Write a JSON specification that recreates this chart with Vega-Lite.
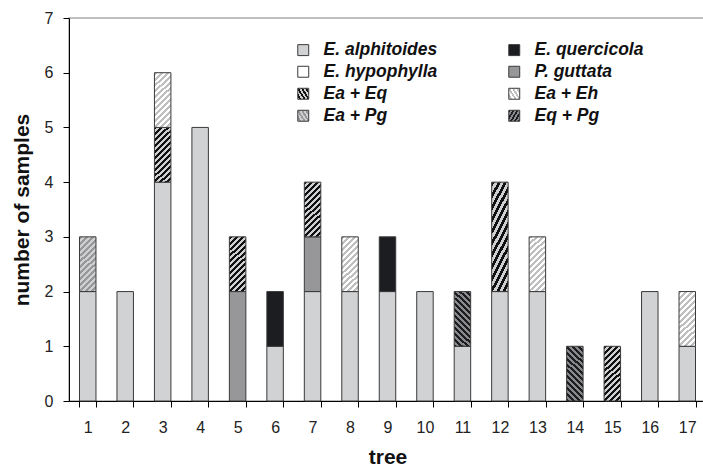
{
  "$schema": "https://vega.github.io/schema/vega-lite/v6.json",
  "autosize": "none",
  "padding": {"left": 69, "top": 18, "right": 0, "bottom": 67},
  "width": 637,
  "height": 383,
  "config": {
    "view": {"stroke": "#aaaaaa", "strokeWidth": 1.5},
    "font": "Liberation Sans"
  },
  "data": {
    "values": [
      {"tree": 1, "value": "E. alphitoides", "n": 2, "k": 0},
      {"tree": 1, "value": "Ea + Pg", "n": 1, "k": 6},
      {"tree": 2, "value": "E. alphitoides", "n": 2, "k": 0},
      {"tree": 3, "value": "E. alphitoides", "n": 4, "k": 0},
      {"tree": 3, "value": "Ea + Eq", "n": 1, "k": 4},
      {"tree": 3, "value": "Ea + Eh", "n": 1, "k": 5},
      {"tree": 4, "value": "E. alphitoides", "n": 5, "k": 0},
      {"tree": 5, "value": "P. guttata", "n": 2, "k": 3},
      {"tree": 5, "value": "Ea + Eq", "n": 1, "k": 4},
      {"tree": 6, "value": "E. alphitoides", "n": 1, "k": 0},
      {"tree": 6, "value": "E. quercicola", "n": 1, "k": 1},
      {"tree": 7, "value": "E. alphitoides", "n": 2, "k": 0},
      {"tree": 7, "value": "P. guttata", "n": 1, "k": 3},
      {"tree": 7, "value": "Ea + Eq", "n": 1, "k": 4},
      {"tree": 8, "value": "E. alphitoides", "n": 2, "k": 0},
      {"tree": 8, "value": "Ea + Eh", "n": 1, "k": 5},
      {"tree": 9, "value": "E. alphitoides", "n": 2, "k": 0},
      {"tree": 9, "value": "E. quercicola", "n": 1, "k": 1},
      {"tree": 10, "value": "E. alphitoides", "n": 2, "k": 0},
      {"tree": 11, "value": "E. alphitoides", "n": 1, "k": 0},
      {"tree": 11, "value": "Eq + Pg", "n": 1, "k": 7},
      {"tree": 12, "value": "E. alphitoides", "n": 2, "k": 0},
      {"tree": 12, "value": "Ea + Eq", "n": 2, "k": 4},
      {"tree": 13, "value": "E. alphitoides", "n": 2, "k": 0},
      {"tree": 13, "value": "Ea + Eh", "n": 1, "k": 5},
      {"tree": 14, "value": "Eq + Pg", "n": 1, "k": 7},
      {"tree": 15, "value": "Ea + Eq", "n": 1, "k": 4},
      {"tree": 16, "value": "E. alphitoides", "n": 2, "k": 0},
      {"tree": 17, "value": "E. alphitoides", "n": 1, "k": 0},
      {"tree": 17, "value": "Ea + Eh", "n": 1, "k": 5}
    ]
  },
  "mark": {"type": "bar", "strokeWidth": 1},
  "encoding": {
    "x": {
      "field": "tree", "type": "ordinal",
      "scale": {"paddingInner": 0.56, "paddingOuter": 0.28},
      "axis": {
        "title": "tree", "labelAngle": 0, "tickBand": "extent",
        "domainColor": "#000", "tickColor": "#000", "tickSize": 6, "domainWidth": 1,
        "labelFont": "Liberation Sans", "labelFontSize": 16, "labelColor": "#222", "labelPadding": 12,
        "titleFont": "Liberation Sans", "titleFontSize": 21, "titleFontWeight": "bold", "titleColor": "#111", "titlePadding": 11
      }
    },
    "y": {
      "field": "n", "type": "quantitative", "stack": "zero",
      "scale": {"domain": [0, 7], "nice": false},
      "axis": {
        "title": "number of samples", "values": [0, 1, 2, 3, 4, 5, 6, 7], "grid": false,
        "domainColor": "#000", "tickColor": "#000", "tickSize": 6, "domainWidth": 1,
        "labelFont": "Liberation Sans", "labelFontSize": 16, "labelColor": "#222", "labelPadding": 10,
        "titleFont": "Liberation Sans", "titleFontSize": 21, "titleFontWeight": "bold", "titleColor": "#111", "titlePadding": 12
      }
    },
    "order": {"field": "k", "type": "quantitative", "sort": "ascending"},
    "stroke": {
      "field": "value", "type": "nominal",
      "scale": {
        "domain": ["E. alphitoides", "E. hypophylla", "Ea + Eq", "Ea + Pg", "E. quercicola", "P. guttata", "Ea + Eh", "Eq + Pg"],
        "range": ["#3a3a3a", "#3a3a3a", "#3a3a3a", "#3a3a3a", "#3a3a3a", "#3a3a3a", "#3a3a3a", "#3a3a3a"]
      },
      "legend": {
        "title": null, "orient": "none", "legendX": 225.5, "legendY": 23, "columns": 2,
        "symbolType": "square", "symbolSize": 120, "symbolStrokeWidth": 1, "symbolOpacity": 1,
        "labelFont": "Liberation Sans", "labelFontSize": 17.5, "labelFontWeight": "bold", "labelFontStyle": "italic", "labelColor": "#111111",
        "labelOffset": 11.5, "rowPadding": 3, "columnPadding": 68, "padding": 0, "labelLimit": 300
      }
    },
    "color": {
      "condition": [
        {"test": "false", "value": ""},
        {"test": "datum.value === 'Ea + Eq'", "value": {"gradient": "linear", "x1": 0, "y1": 0, "x2": 0.346, "y2": 1.19, "stops": [
            {"offset": 0, "color": "#111111"}, {"offset": 0.0417, "color": "#111111"}, {"offset": 0.0417, "color": "#cfd0d2"}, {"offset": 0.0833, "color": "#cfd0d2"},
            {"offset": 0.0833, "color": "#111111"}, {"offset": 0.125, "color": "#111111"}, {"offset": 0.125, "color": "#cfd0d2"}, {"offset": 0.1667, "color": "#cfd0d2"},
            {"offset": 0.1667, "color": "#111111"}, {"offset": 0.2083, "color": "#111111"}, {"offset": 0.2083, "color": "#cfd0d2"}, {"offset": 0.25, "color": "#cfd0d2"},
            {"offset": 0.25, "color": "#111111"}, {"offset": 0.2917, "color": "#111111"}, {"offset": 0.2917, "color": "#cfd0d2"}, {"offset": 0.3333, "color": "#cfd0d2"},
            {"offset": 0.3333, "color": "#111111"}, {"offset": 0.375, "color": "#111111"}, {"offset": 0.375, "color": "#cfd0d2"}, {"offset": 0.4167, "color": "#cfd0d2"},
            {"offset": 0.4167, "color": "#111111"}, {"offset": 0.4583, "color": "#111111"}, {"offset": 0.4583, "color": "#cfd0d2"}, {"offset": 0.5, "color": "#cfd0d2"},
            {"offset": 0.5, "color": "#111111"}, {"offset": 0.5417, "color": "#111111"}, {"offset": 0.5417, "color": "#cfd0d2"}, {"offset": 0.5833, "color": "#cfd0d2"},
            {"offset": 0.5833, "color": "#111111"}, {"offset": 0.625, "color": "#111111"}, {"offset": 0.625, "color": "#cfd0d2"}, {"offset": 0.6667, "color": "#cfd0d2"},
            {"offset": 0.6667, "color": "#111111"}, {"offset": 0.7083, "color": "#111111"}, {"offset": 0.7083, "color": "#cfd0d2"}, {"offset": 0.75, "color": "#cfd0d2"},
            {"offset": 0.75, "color": "#111111"}, {"offset": 0.7917, "color": "#111111"}, {"offset": 0.7917, "color": "#cfd0d2"}, {"offset": 0.8333, "color": "#cfd0d2"},
            {"offset": 0.8333, "color": "#111111"}, {"offset": 0.875, "color": "#111111"}, {"offset": 0.875, "color": "#cfd0d2"}, {"offset": 0.9167, "color": "#cfd0d2"},
            {"offset": 0.9167, "color": "#111111"}, {"offset": 0.9583, "color": "#111111"}, {"offset": 0.9583, "color": "#cfd0d2"}, {"offset": 1, "color": "#cfd0d2"}
          ]}},
        {"test": "datum.value === 'Ea + Eh'", "value": {"gradient": "linear", "x1": 0, "y1": 0, "x2": 0.346, "y2": 1.19, "stops": [
            {"offset": 0, "color": "#bfbfbf"}, {"offset": 0.0417, "color": "#bfbfbf"}, {"offset": 0.0417, "color": "#ffffff"}, {"offset": 0.0833, "color": "#ffffff"},
            {"offset": 0.0833, "color": "#bfbfbf"}, {"offset": 0.125, "color": "#bfbfbf"}, {"offset": 0.125, "color": "#ffffff"}, {"offset": 0.1667, "color": "#ffffff"},
            {"offset": 0.1667, "color": "#bfbfbf"}, {"offset": 0.2083, "color": "#bfbfbf"}, {"offset": 0.2083, "color": "#ffffff"}, {"offset": 0.25, "color": "#ffffff"},
            {"offset": 0.25, "color": "#bfbfbf"}, {"offset": 0.2917, "color": "#bfbfbf"}, {"offset": 0.2917, "color": "#ffffff"}, {"offset": 0.3333, "color": "#ffffff"},
            {"offset": 0.3333, "color": "#bfbfbf"}, {"offset": 0.375, "color": "#bfbfbf"}, {"offset": 0.375, "color": "#ffffff"}, {"offset": 0.4167, "color": "#ffffff"},
            {"offset": 0.4167, "color": "#bfbfbf"}, {"offset": 0.4583, "color": "#bfbfbf"}, {"offset": 0.4583, "color": "#ffffff"}, {"offset": 0.5, "color": "#ffffff"},
            {"offset": 0.5, "color": "#bfbfbf"}, {"offset": 0.5417, "color": "#bfbfbf"}, {"offset": 0.5417, "color": "#ffffff"}, {"offset": 0.5833, "color": "#ffffff"},
            {"offset": 0.5833, "color": "#bfbfbf"}, {"offset": 0.625, "color": "#bfbfbf"}, {"offset": 0.625, "color": "#ffffff"}, {"offset": 0.6667, "color": "#ffffff"},
            {"offset": 0.6667, "color": "#bfbfbf"}, {"offset": 0.7083, "color": "#bfbfbf"}, {"offset": 0.7083, "color": "#ffffff"}, {"offset": 0.75, "color": "#ffffff"},
            {"offset": 0.75, "color": "#bfbfbf"}, {"offset": 0.7917, "color": "#bfbfbf"}, {"offset": 0.7917, "color": "#ffffff"}, {"offset": 0.8333, "color": "#ffffff"},
            {"offset": 0.8333, "color": "#bfbfbf"}, {"offset": 0.875, "color": "#bfbfbf"}, {"offset": 0.875, "color": "#ffffff"}, {"offset": 0.9167, "color": "#ffffff"},
            {"offset": 0.9167, "color": "#bfbfbf"}, {"offset": 0.9583, "color": "#bfbfbf"}, {"offset": 0.9583, "color": "#ffffff"}, {"offset": 1, "color": "#ffffff"}
          ]}},
        {"test": "datum.value === 'Ea + Pg'", "value": {"gradient": "linear", "x1": 0, "y1": 0, "x2": 0.346, "y2": 1.19, "stops": [
            {"offset": 0, "color": "#98989b"}, {"offset": 0.0417, "color": "#98989b"}, {"offset": 0.0417, "color": "#cfd0d2"}, {"offset": 0.0833, "color": "#cfd0d2"},
            {"offset": 0.0833, "color": "#98989b"}, {"offset": 0.125, "color": "#98989b"}, {"offset": 0.125, "color": "#cfd0d2"}, {"offset": 0.1667, "color": "#cfd0d2"},
            {"offset": 0.1667, "color": "#98989b"}, {"offset": 0.2083, "color": "#98989b"}, {"offset": 0.2083, "color": "#cfd0d2"}, {"offset": 0.25, "color": "#cfd0d2"},
            {"offset": 0.25, "color": "#98989b"}, {"offset": 0.2917, "color": "#98989b"}, {"offset": 0.2917, "color": "#cfd0d2"}, {"offset": 0.3333, "color": "#cfd0d2"},
            {"offset": 0.3333, "color": "#98989b"}, {"offset": 0.375, "color": "#98989b"}, {"offset": 0.375, "color": "#cfd0d2"}, {"offset": 0.4167, "color": "#cfd0d2"},
            {"offset": 0.4167, "color": "#98989b"}, {"offset": 0.4583, "color": "#98989b"}, {"offset": 0.4583, "color": "#cfd0d2"}, {"offset": 0.5, "color": "#cfd0d2"},
            {"offset": 0.5, "color": "#98989b"}, {"offset": 0.5417, "color": "#98989b"}, {"offset": 0.5417, "color": "#cfd0d2"}, {"offset": 0.5833, "color": "#cfd0d2"},
            {"offset": 0.5833, "color": "#98989b"}, {"offset": 0.625, "color": "#98989b"}, {"offset": 0.625, "color": "#cfd0d2"}, {"offset": 0.6667, "color": "#cfd0d2"},
            {"offset": 0.6667, "color": "#98989b"}, {"offset": 0.7083, "color": "#98989b"}, {"offset": 0.7083, "color": "#cfd0d2"}, {"offset": 0.75, "color": "#cfd0d2"},
            {"offset": 0.75, "color": "#98989b"}, {"offset": 0.7917, "color": "#98989b"}, {"offset": 0.7917, "color": "#cfd0d2"}, {"offset": 0.8333, "color": "#cfd0d2"},
            {"offset": 0.8333, "color": "#98989b"}, {"offset": 0.875, "color": "#98989b"}, {"offset": 0.875, "color": "#cfd0d2"}, {"offset": 0.9167, "color": "#cfd0d2"},
            {"offset": 0.9167, "color": "#98989b"}, {"offset": 0.9583, "color": "#98989b"}, {"offset": 0.9583, "color": "#cfd0d2"}, {"offset": 1, "color": "#cfd0d2"}
          ]}},
        {"test": "datum.value === 'Eq + Pg'", "value": {"gradient": "linear", "x1": 0, "y1": 1, "x2": 0.346, "y2": -0.19, "stops": [
            {"offset": 0, "color": "#1c1d21"}, {"offset": 0.0417, "color": "#1c1d21"}, {"offset": 0.0417, "color": "#8a8a8d"}, {"offset": 0.0833, "color": "#8a8a8d"},
            {"offset": 0.0833, "color": "#1c1d21"}, {"offset": 0.125, "color": "#1c1d21"}, {"offset": 0.125, "color": "#8a8a8d"}, {"offset": 0.1667, "color": "#8a8a8d"},
            {"offset": 0.1667, "color": "#1c1d21"}, {"offset": 0.2083, "color": "#1c1d21"}, {"offset": 0.2083, "color": "#8a8a8d"}, {"offset": 0.25, "color": "#8a8a8d"},
            {"offset": 0.25, "color": "#1c1d21"}, {"offset": 0.2917, "color": "#1c1d21"}, {"offset": 0.2917, "color": "#8a8a8d"}, {"offset": 0.3333, "color": "#8a8a8d"},
            {"offset": 0.3333, "color": "#1c1d21"}, {"offset": 0.375, "color": "#1c1d21"}, {"offset": 0.375, "color": "#8a8a8d"}, {"offset": 0.4167, "color": "#8a8a8d"},
            {"offset": 0.4167, "color": "#1c1d21"}, {"offset": 0.4583, "color": "#1c1d21"}, {"offset": 0.4583, "color": "#8a8a8d"}, {"offset": 0.5, "color": "#8a8a8d"},
            {"offset": 0.5, "color": "#1c1d21"}, {"offset": 0.5417, "color": "#1c1d21"}, {"offset": 0.5417, "color": "#8a8a8d"}, {"offset": 0.5833, "color": "#8a8a8d"},
            {"offset": 0.5833, "color": "#1c1d21"}, {"offset": 0.625, "color": "#1c1d21"}, {"offset": 0.625, "color": "#8a8a8d"}, {"offset": 0.6667, "color": "#8a8a8d"},
            {"offset": 0.6667, "color": "#1c1d21"}, {"offset": 0.7083, "color": "#1c1d21"}, {"offset": 0.7083, "color": "#8a8a8d"}, {"offset": 0.75, "color": "#8a8a8d"},
            {"offset": 0.75, "color": "#1c1d21"}, {"offset": 0.7917, "color": "#1c1d21"}, {"offset": 0.7917, "color": "#8a8a8d"}, {"offset": 0.8333, "color": "#8a8a8d"},
            {"offset": 0.8333, "color": "#1c1d21"}, {"offset": 0.875, "color": "#1c1d21"}, {"offset": 0.875, "color": "#8a8a8d"}, {"offset": 0.9167, "color": "#8a8a8d"},
            {"offset": 0.9167, "color": "#1c1d21"}, {"offset": 0.9583, "color": "#1c1d21"}, {"offset": 0.9583, "color": "#8a8a8d"}, {"offset": 1, "color": "#8a8a8d"}
          ]}}
      ],
      "field": "value", "type": "nominal",
      "scale": {
        "domain": ["E. alphitoides", "E. quercicola", "E. hypophylla", "P. guttata", "Ea + Eq", "Ea + Eh", "Ea + Pg", "Eq + Pg"],
        "range": ["#d1d2d4", "#1c1d21", "#ffffff", "#97979a", "#555555", "#e0e0e0", "#b4b4b6", "#505053"]
      },
      "legend": null
    }
  }
}
